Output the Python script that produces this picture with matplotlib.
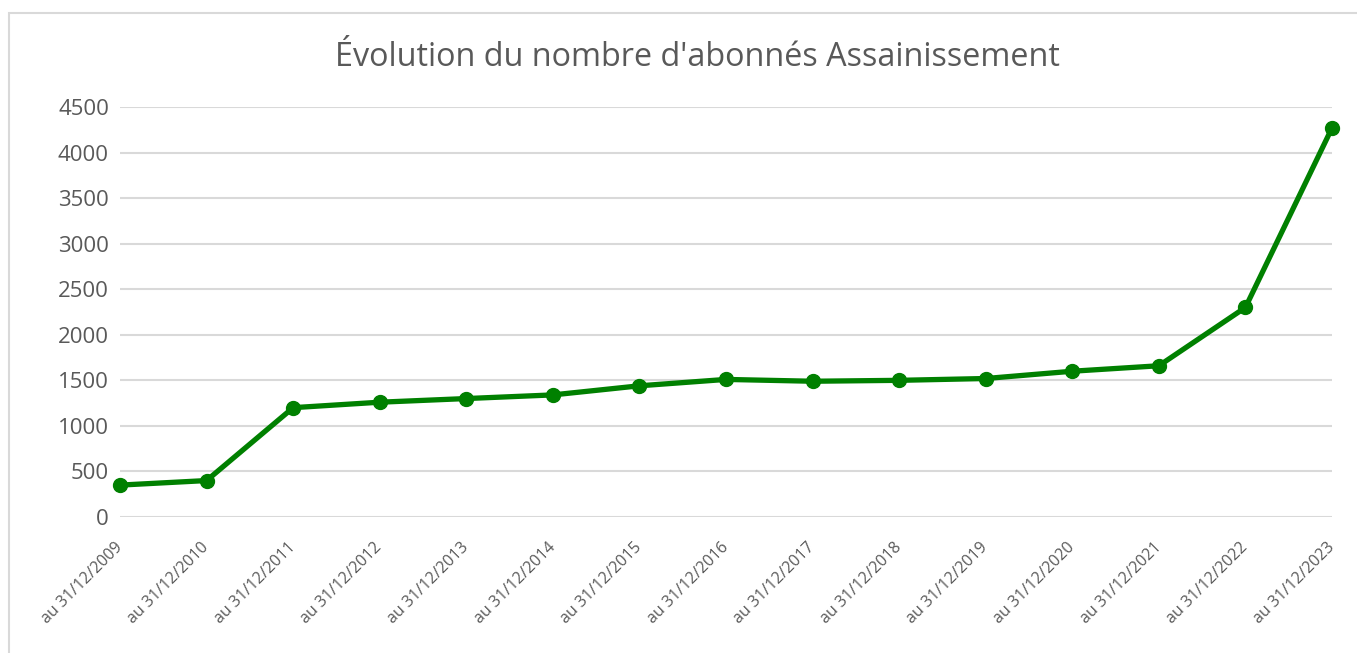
import numpy as np
import matplotlib.pyplot as plt
from matplotlib.patches import Rectangle

plt.rcParams['font.family'] = ['Open Sans', 'DejaVu Sans']

years = list(range(2009, 2024))
labels = ["au 31/12/%d" % y for y in years]
abonnes = [350, 400, 1200, 1260, 1300, 1340, 1440, 1510, 1490, 1500, 1520, 1600, 1660, 2300, 4270]

grey = '#595959'

fig = plt.figure(figsize=(13.57, 6.53), dpi=100)
fig.patches.append(Rectangle((9 / 1357, -0.1), 1.2, 1 - 13 / 653 + 0.1, transform=fig.transFigure,
                             fill=False, edgecolor='#d9d9d9', linewidth=1.5))
ax = fig.add_axes([120 / 1357, 1 - 517 / 653, (1332 - 120) / 1357, (517 - 107) / 653])

x = np.arange(len(years))
ax.plot(x, abonnes, color='#008000', linewidth=3.8, marker='o', markersize=10, clip_on=False, zorder=3)

ax.set_xlim(0, len(years) - 1)
ax.set_ylim(0, 4500)
ax.set_yticks(np.arange(0, 4501, 500))
ax.set_xticks(x)
ax.set_xticklabels(labels, rotation=45, ha='right', va='center', rotation_mode='anchor',
                   fontsize=11.5, color=grey)
ax.tick_params(axis='x', length=0, pad=20)
ax.tick_params(axis='y', length=0, pad=8, labelsize=16, labelcolor=grey)
ax.grid(axis='y', color='#d9d9d9', linewidth=1.5)
ax.set_axisbelow(True)
for s in ax.spines.values():
    s.set_visible(False)

fig.text(697 / 1357, 1 - 58 / 653, "Évolution du nombre d'abonnés Assainissement",
         ha='center', va='center', fontsize=23.3, color=grey)

fig.savefig('out.png', dpi=100)
